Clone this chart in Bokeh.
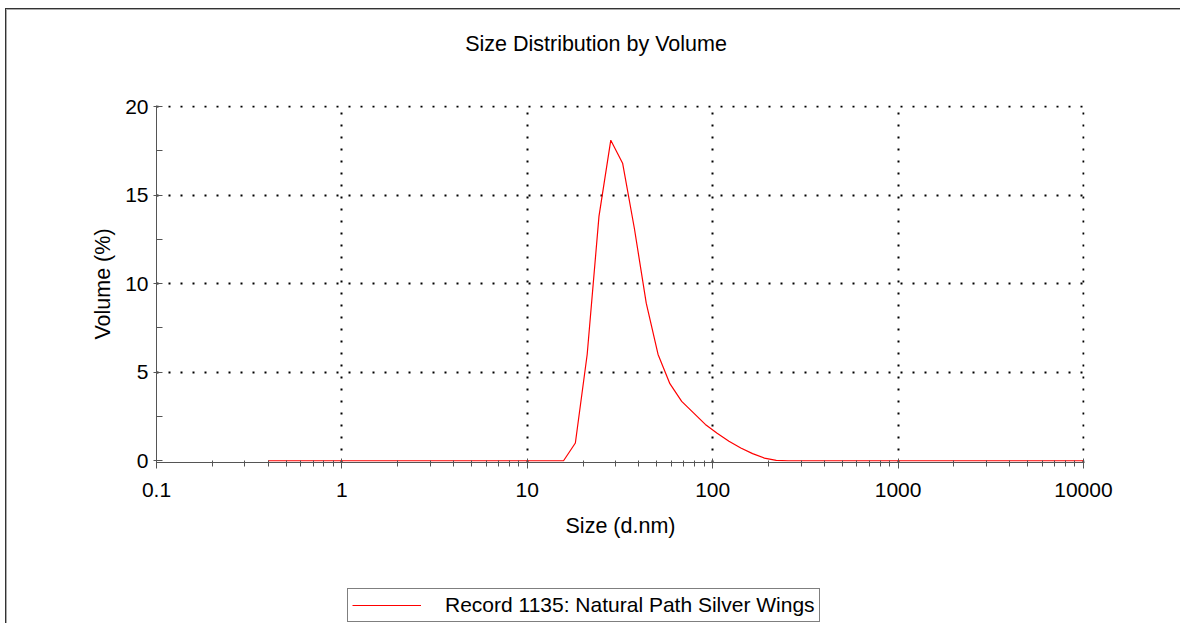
from bokeh.plotting import figure
from bokeh.layouts import column
from bokeh.models import (Range1d, FixedTicker, CustomJSTickFormatter,
                          Legend, LegendItem, Label)
from bokeh.embed import file_html
from bokeh.resources import INLINE

# ---- data ----
size_nm = [0.4, 0.4632, 0.5365, 0.6213, 0.7195, 0.8332, 0.9649, 1.117, 1.294, 1.499,
           1.736, 2.010, 2.328, 2.696, 3.122, 3.615, 4.187, 4.849, 5.615, 6.503,
           7.531, 8.721, 10.10, 11.70, 13.54, 15.69, 18.17, 21.04, 24.36, 28.21,
           32.67, 37.84, 43.82, 50.75, 58.77, 68.06, 78.82, 91.28, 105.7, 122.4,
           141.8, 164.2, 190.1, 220.2, 255.0, 295.3, 342.0, 396.1, 458.7, 531.2,
           615.1, 712.4, 825.0, 955.4, 1106, 1281, 1484, 1718, 1990, 2305,
           2669, 3091, 3580, 4145, 4801, 5560, 6439, 7456, 8635, 10000]
volume_pct = [0.0] * 26 + [1.0, 6.0, 13.8, 18.1, 16.8, 13.1, 8.9, 6.0, 4.35, 3.35,
                           2.7, 2.05, 1.55, 1.1, 0.72, 0.4, 0.15, 0.02] + [0.0] * 26

x_ticks = [0.1, 1, 10, 100, 1000, 10000]
x_tick_labels = ["0.1", "1", "10", "100", "1000", "10000"]
y_ticks = [0, 5, 10, 15, 20]
y_minor_ticks = [2.5, 7.5, 12.5, 17.5]

title_text = "Size Distribution by Volume"
x_label = "Size (d.nm)"
y_label = "Volume (%)"
series_name = "Record 1135: Natural Path Silver Wings"

FONT = "Liberation Sans"
FS = "21px"
LINE_COLOR = "red"
W = 1180

LEFT_EDGE = ("linear-gradient(#333,#333) 5px {t} / 1px 100% no-repeat, "
             "linear-gradient(#aaa,#aaa) 6px {t2} / 1px 100% no-repeat")


def strip(height):
    f = figure(width=W, height=height, output_backend="svg", toolbar_location=None,
               x_range=Range1d(-2, -1), y_range=Range1d(-2, -1),
               x_axis_location=None, y_axis_location=None,
               min_border_left=0, min_border_right=0, min_border_top=0, min_border_bottom=0)
    f.grid.visible = False
    f.outline_line_color = None
    f.background_fill_color = None
    f.border_fill_color = None
    return f


# ---- title strip ----
p0 = strip(60)
p0.styles = {"background": (LEFT_EDGE.format(t="8px", t2="9px") + ", "
                            "linear-gradient(#333,#333) 5px 8px / 100% 1px no-repeat, "
                            "linear-gradient(#aaa,#aaa) 6px 9px / 100% 1px no-repeat, white")}
p0.add_layout(Label(x=439.5, y=17, x_units="screen", y_units="screen", text=title_text,
                    text_font=FONT, text_font_size="21.5px", text_color="black",
                    text_align="center", text_baseline="alphabetic"))

# ---- main chart ----
p = figure(width=W, height=525, x_axis_type="log",
           x_range=Range1d(0.1, 10130), y_range=Range1d(-0.1, 20.06),
           output_backend="svg", toolbar_location=None,
           min_border_left=156, min_border_right=W - 1084,
           min_border_top=45, min_border_bottom=123)
p.outline_line_color = None
p.background_fill_color = "white"
p.border_fill_color = None
p.styles = {"background": LEFT_EDGE.format(t="0", t2="0") + ", white"}

r = p.line(size_nm, volume_pct, line_color=LINE_COLOR, line_width=1.2)

x_minor = [k * t for t in x_ticks[:-1] for k in range(2, 10)]
p.xaxis.ticker = FixedTicker(ticks=x_ticks, minor_ticks=x_minor)
p.xaxis.formatter = CustomJSTickFormatter(
    args=dict(xt=x_ticks, xl=x_tick_labels),
    code="""
const i = xt.findIndex(t => Math.abs(Math.log10(t) - Math.log10(tick)) < 1e-6);
return i >= 0 ? xl[i] : String(tick);
""")
p.yaxis.ticker = FixedTicker(ticks=y_ticks, minor_ticks=y_minor_ticks)

p.xaxis.axis_label = x_label
p.yaxis.axis_label = y_label

for ax in (p.xaxis[0], p.yaxis[0]):
    ax.axis_line_color = "#555555"
    ax.major_tick_line_color = "#555555"
    ax.minor_tick_line_color = "#555555"
    ax.major_label_text_font = FONT
    ax.major_label_text_font_size = FS
    ax.major_label_text_color = "black"
    ax.axis_label_text_font = FONT
    ax.axis_label_text_font_size = "21.5px"
    ax.axis_label_text_font_style = "normal"
    ax.axis_label_text_color = "black"

p.xaxis.major_tick_in = 4
p.xaxis.major_tick_out = 6
p.xaxis.minor_tick_in = 2
p.xaxis.minor_tick_out = 4
p.xaxis.major_label_standoff = 14
p.xaxis.axis_label_standoff = 14

p.yaxis.major_tick_in = 6
p.yaxis.major_tick_out = 3
p.yaxis.minor_tick_in = 6
p.yaxis.minor_tick_out = 0
p.yaxis.major_label_standoff = 5
p.yaxis.axis_label_standoff = 7

p.xgrid.ticker = FixedTicker(ticks=x_ticks[1:])
p.ygrid.ticker = FixedTicker(ticks=y_ticks[1:])
for g in (p.xgrid[0], p.ygrid[0]):
    g.grid_line_color = "black"
    g.grid_line_width = 2
    g.grid_line_dash = "2 10"
    g.grid_line_alpha = 1.0

# ---- legend strip (frames aligned with the chart's frame by the column) ----
p2 = strip(38)
p2.styles = {"background": LEFT_EDGE.format(t="0", t2="0") + ", white"}
# legend proxy: same series, outside this strip's ranges so only the legend swatch shows
legend_glyph = p2.line(size_nm, volume_pct, line_color=LINE_COLOR, line_alpha=1.0,
                       line_width=1.2)
legend = Legend(items=[LegendItem(label=series_name, renderers=[legend_glyph])],
                location=(191, 1), margin=0, padding=4, spacing=0,
                glyph_width=69, glyph_height=20, label_standoff=24,
                label_text_font=FONT, label_text_font_size=FS, label_text_color="black",
                border_line_color="black", border_line_width=1,
                background_fill_color="white", background_fill_alpha=1)
p2.add_layout(legend, "center")

layout = column(p0, p, p2, spacing=0)
open("out.html", "w").write(file_html(layout, INLINE))
